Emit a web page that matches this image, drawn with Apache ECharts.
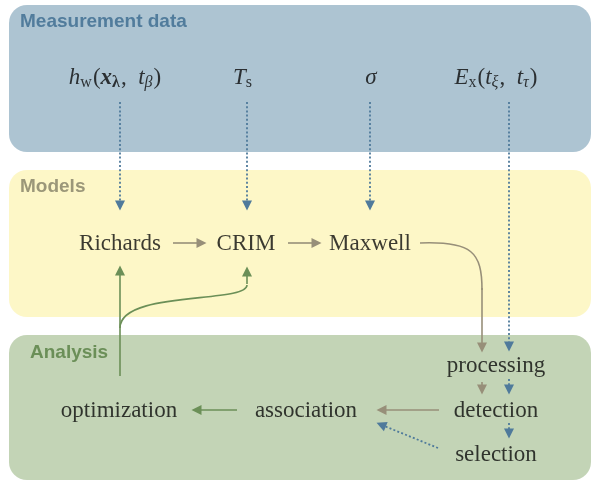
<!DOCTYPE html>
<html>
<head>
<meta charset="utf-8">
<script src="https://cdn.jsdelivr.net/npm/echarts@6/dist/echarts.min.js"></script>
<style>
  html, body { margin: 0; padding: 0; background: #fff; }
  #main { width: 595px; height: 481px; }
</style>
</head>
<body>
<div id="main"></div>
<script>
// nodes of the flow diagram (x/y in the hidden 595 x 481 grid)
var nodeLabels = [
  '{i|h}{s|w}{r|(}{bi|x}{sb|λ}{r|,  }{i|t}{si|β}{r|)}',
  '{i|T}{s|s}',
  '{i|σ}',
  '{i|E}{s|x}{r|(}{i|t}{si|ξ}{r|,  }{i|t}{si|τ}{r|)}',
  'Richards', 'CRIM', 'Maxwell',
  'processing', 'detection', 'selection', 'association', 'optimization'
];
var nodeX = [115, 243, 371, 496, 120, 246, 370, 496, 496, 496, 306, 119];
var nodeY = [78, 78, 78, 78, 244, 244, 244, 366, 411, 455, 411, 411];

// straight arrows: [fromX, fromY, tipX, tipY]
var dataArrows = [
  [120, 102, 120, 210], [247, 102, 247, 210], [370, 102, 370, 210],
  [509, 102, 509, 351], [509, 379, 509, 394], [509, 423, 509, 438],
  [438, 448, 377, 423]
];
var modelArrows = [
  [173, 243, 206, 243], [288, 243, 321, 243], [482, 288, 482, 352],
  [482, 382, 482, 394], [439, 410, 377, 410]
];
var analysisArrows = [
  [237, 410, 192, 410], [120, 376, 120, 266], [247, 284, 247, 267]
];
// curved connectors: [x1, y1, cpx1, cpy1, cpx2, cpy2, x2, y2]
var modelCurves = [[420, 243, 472, 241, 482, 252, 482, 290]];
var analysisCurves = [[120, 328, 120, 290, 247, 304, 247, 285]];

// section panels
var panelTitles = ['Measurement data', 'Models', 'Analysis'];
var panelTop = [5, 170, 335];
var panelBottom = [152, 317, 480];
var panelFill = ['#adc4d2', '#fdf7c7', '#c3d4b6'];
var panelInk = ['#517c9c', '#9b9779', '#6b8f58'];
var panelTitleX = [20, 20, 30];
var panelTitleY = [22, 187, 353];

var BLUE = '#4f7a9b', GREY = '#978f79', GREEN = '#6b8f57';
var serif = 'Liberation Serif';

function toTip(a) {
  // pull the line end back so the arrow head (centred on the end) ends at the tip
  var dx = a[2] - a[0], dy = a[3] - a[1], l = Math.sqrt(dx * dx + dy * dy);
  return { coords: [[a[0], a[1]], [a[2] - dx / l * 4.5, a[3] - dy / l * 4.5]] };
}

function arrowSeries(list, color, dashed) {
  return {
    type: 'lines',
    coordinateSystem: 'cartesian2d',
    symbol: ['none', 'triangle'],
    symbolSize: [8, 10],
    silent: true,
    lineStyle: { color: color, width: dashed ? 1.8 : 1.6, type: dashed ? [2, 2.2] : 'solid', opacity: 1 },
    data: list.map(toTip)
  };
}

var myChart = echarts.init(document.getElementById('main'));

var ink = '#0a0a0a';
var big = 23, small = 16;
var rich = {
  r: { fontFamily: serif, fontSize: big, color: ink },
  i: { fontFamily: serif, fontSize: big, fontStyle: 'italic', color: ink },
  bi: { fontFamily: serif, fontSize: big, fontStyle: 'italic', fontWeight: 'bold', color: ink },
  s: { fontFamily: serif, fontSize: small, color: ink, padding: [9, 1, 0, 0] },
  si: { fontFamily: serif, fontSize: small, fontStyle: 'italic', color: ink, padding: [9, 1, 0, 0] },
  sb: { fontFamily: serif, fontSize: small, fontWeight: 'bold', color: ink, padding: [9, 1, 0, 0] }
};

var panels = panelTitles.map(function (t, k) {
  return {
    type: 'group',
    silent: true,
    z: -10,
    children: [
      { type: 'rect', shape: { x: 9, y: panelTop[k], width: 582, height: panelBottom[k] - panelTop[k], r: 18 },
        style: { fill: panelFill[k] } },
      { type: 'text', x: panelTitleX[k], y: panelTitleY[k],
        style: { text: t, fill: panelInk[k], font: 'bold 19px "Liberation Sans", Arial, sans-serif', verticalAlign: 'middle' } }
    ]
  };
});

myChart.setOption({
  animation: false,
  backgroundColor: '#fff',
  grid: { left: 0, right: 0, top: 0, bottom: 0 },
  xAxis: { type: 'value', min: 0, max: 595, show: false },
  yAxis: { type: 'value', min: 0, max: 481, inverse: true, show: false },
  graphic: panels,
  series: [
    {
      type: 'scatter',
      symbolSize: 1,
      itemStyle: { color: 'rgba(0,0,0,0)' },
      silent: true,
      z: 5,
      label: {
        show: true,
        position: 'inside',
        fontFamily: serif,
        fontSize: big,
        color: ink,
        textBorderWidth: 0,
        rich: rich,
        formatter: function (p) { return nodeLabels[p.dataIndex]; }
      },
      data: nodeX.map(function (x, k) { return [x, nodeY[k]]; })
    },
    arrowSeries(dataArrows, BLUE, true),
    arrowSeries(modelArrows, GREY, false),
    arrowSeries(analysisArrows, GREEN, false)
  ]
});

// curved connectors, placed through the same grid
function curve(c, color) {
  var p = [0, 2, 4, 6].map(function (i) {
    return myChart.convertToPixel({ gridIndex: 0 }, [c[i], c[i + 1]]);
  });
  return {
    type: 'bezierCurve', silent: true, z: 3,
    shape: { x1: p[0][0], y1: p[0][1], cpx1: p[1][0], cpy1: p[1][1],
             cpx2: p[2][0], cpy2: p[2][1], x2: p[3][0], y2: p[3][1] },
    style: { stroke: color, lineWidth: 1.6, fill: null }
  };
}
myChart.setOption({
  graphic: panels.concat(
    modelCurves.map(function (c) { return curve(c, GREY); }),
    analysisCurves.map(function (c) { return curve(c, GREEN); })
  )
});
</script>
</body>
</html>
